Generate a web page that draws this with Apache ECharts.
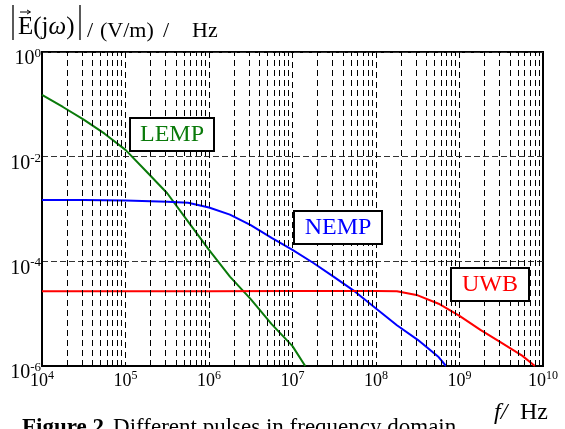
<!DOCTYPE html>
<html><head><meta charset="utf-8">
<script src="https://cdn.jsdelivr.net/npm/echarts@6/dist/echarts.min.js"></script>
<style>html,body{margin:0;padding:0;background:#fff}#c{width:565px;height:429px}</style>
</head><body><div id="c"></div>
<script>
// Frequencies (Hz) and spectral magnitudes ((V/m)/Hz)
const lempF = [1e4, 1.78e4, 3.16e4, 5.62e4, 1e5, 1.78e5, 3.16e5, 5.62e5, 1e6, 1.78e6, 3.16e6, 5.62e6, 1e7, 1.42e7];
const lempE = [1.51e-1, 8.9e-2, 5.1e-2, 2.75e-2, 1.35e-2, 5.2e-3, 2.0e-3, 5.75e-4, 1.66e-4, 5.1e-5, 1.9e-5, 6.3e-6, 2.4e-6, 1.0e-6];

const nempF = [1e4, 3.16e4, 1e5, 3.16e5, 5.62e5, 1e6, 1.78e6, 3.16e6, 5.62e6, 1e7, 1.78e7, 3.16e7, 5.62e7, 1e8, 1.78e8, 3.16e8, 5.62e8, 6.9e8];
const nempE = [1.48e-3, 1.48e-3, 1.45e-3, 1.38e-3, 1.32e-3, 1.07e-3, 7.8e-4, 4.9e-4, 2.8e-4, 1.66e-4, 9.3e-5, 5.0e-5, 2.63e-5, 1.26e-5, 6.0e-6, 3.16e-6, 1.48e-6, 1.0e-6];

const uwbF = [1e4, 1e6, 1e7, 1e8, 1.78e8, 3.16e8, 5.62e8, 1e9, 1.78e9, 3.16e9, 5.62e9, 8.0e9];
const uwbE = [2.69e-5, 2.69e-5, 2.72e-5, 2.72e-5, 2.69e-5, 2.24e-5, 1.55e-5, 9.1e-6, 4.9e-6, 2.8e-6, 1.58e-6, 1.0e-6];

const seriesNames = ['LEMP', 'NEMP', 'UWB'];
const xDecades = [1e4, 1e5, 1e6, 1e7, 1e8, 1e9];
const minorMult = [2, 3, 4, 5, 6, 7, 8, 9];

const serif = 'Liberation Serif, Times New Roman, serif';
const zip = (a, b) => a.map((v, i) => [v, b[i]]);

const minorLines = [];
xDecades.forEach(d => minorMult.forEach(m => minorLines.push({ xAxis: d * m })));

function supLabel(v) {
  const e = Math.round(Math.log10(v));
  return '{b|10}{e|' + e + '}';
}
const xRich = {
  b: { fontFamily: serif, fontSize: 18, color: '#000', lineHeight: 20, verticalAlign: 'bottom' },
  e: { fontFamily: serif, fontSize: 12, color: '#000', lineHeight: 13, verticalAlign: 'top' }
};
const yRich = {
  b: { fontFamily: serif, fontSize: 20, color: '#000', lineHeight: 22, verticalAlign: 'bottom' },
  e: { fontFamily: serif, fontSize: 13, color: '#000', lineHeight: 14, verticalAlign: 'top' }
};

const chart = echarts.init(document.getElementById('c'), null, { renderer: 'canvas' });
chart.setOption({
  animation: false,
  backgroundColor: '#fff',
  grid: { left: 42, right: 22, top: 52, bottom: 63, show: true, borderColor: '#000', borderWidth: 2, backgroundColor: 'transparent' },
  xAxis: {
    type: 'log', logBase: 10, min: 1e4, max: 1e10,
    axisLine: { show: true, lineStyle: { color: '#000', width: 2 } },
    axisTick: { show: false },
    splitLine: { show: true, lineStyle: { color: '#000', width: 1, type: [6, 4] } },
    axisLabel: { margin: 4, formatter: supLabel, rich: xRich, showMinLabel: true, showMaxLabel: true }
  },
  yAxis: {
    type: 'log', logBase: 10, min: 1e-6, max: 1, interval: 2,
    axisLine: { show: true, lineStyle: { color: '#000', width: 2 } },
    axisTick: { show: false },
    splitLine: { show: true, lineStyle: { color: '#333', width: 1, type: [6, 3] } },
    axisLabel: { margin: 1, formatter: supLabel, rich: yRich, padding: [12, 0, 0, 0] }
  },
  series: [
    {
      type: 'line', data: [], z: 1, silent: true,
      markLine: {
        silent: true, symbol: 'none', animation: false,
        label: { show: false },
        lineStyle: { color: '#000', width: 1, type: [6, 4] },
        data: minorLines
      }
    },
    { name: seriesNames[0], type: 'line', data: zip(lempF, lempE), showSymbol: false, smooth: false, z: 3, lineStyle: { color: '#0a7a0a', width: 2 } },
    { name: seriesNames[1], type: 'line', data: zip(nempF, nempE), showSymbol: false, smooth: false, z: 3, lineStyle: { color: '#0000ff', width: 2 } },
    { name: seriesNames[2], type: 'line', data: zip(uwbF, uwbE), showSymbol: false, smooth: false, z: 3, lineStyle: { color: '#ff0000', width: 2 } }
  ],
  graphic: [
    // y-axis title |E(jw)| / (V/m) / Hz
    { type: 'line', shape: { x1: 13, y1: 5, x2: 13, y2: 40 }, style: { stroke: '#000', lineWidth: 1.3 } },
    { type: 'line', shape: { x1: 80, y1: 5, x2: 80, y2: 40 }, style: { stroke: '#000', lineWidth: 1.3 } },
    { type: 'line', shape: { x1: 20, y1: 12, x2: 30, y2: 12 }, style: { stroke: '#000', lineWidth: 1 } },
    { type: 'polyline', shape: { points: [[27, 10], [30.5, 12], [27, 14]] }, style: { stroke: '#000', lineWidth: 1, fill: null } },
    { type: 'text', x: 18, y: 27, style: { text: '{n|E(j}{i|ω}{n|)}', rich: { n: { fontFamily: serif, fontSize: 25, fill: '#000' }, i: { fontFamily: serif, fontSize: 25, fontStyle: 'italic', fill: '#000' } }, verticalAlign: 'middle', align: 'left' } },
    { type: 'text', x: 87, y: 31, style: { text: '/', font: '22px ' + serif, fill: '#000', verticalAlign: 'middle' } },
    { type: 'text', x: 100, y: 31, style: { text: '(V/m)', font: '22px ' + serif, fill: '#000', verticalAlign: 'middle' } },
    { type: 'text', x: 163, y: 31, style: { text: '/', font: '22px ' + serif, fill: '#000', verticalAlign: 'middle' } },
    { type: 'text', x: 192, y: 31, style: { text: 'Hz', font: '22px ' + serif, fill: '#000', verticalAlign: 'middle' } },
    // x-axis title
    { type: 'text', x: 494, y: 413, style: { text: 'f/', font: 'italic 24px ' + serif, fill: '#000', verticalAlign: 'middle' } },
    { type: 'text', x: 548, y: 413, style: { text: 'Hz', font: '24px ' + serif, fill: '#000', verticalAlign: 'middle', align: 'right' } },
    // caption
    { type: 'text', x: 22, y: 428, style: { text: '{b|Figure 2.} {n|Different pulses in frequency domain}', rich: { b: { fontFamily: serif, fontSize: 23, fontWeight: 'bold', fill: '#000' }, n: { fontFamily: serif, fontSize: 23, fill: '#000' } }, verticalAlign: 'middle', align: 'left' } },
    // series labels
    { type: 'rect', shape: { x: 130, y: 118, width: 84, height: 33 }, style: { fill: '#fff', stroke: '#000', lineWidth: 2 }, z: 10 },
    { type: 'text', x: 172, y: 135, z: 11, style: { text: seriesNames[0], font: '24px ' + serif, fill: '#0a7a0a', align: 'center', verticalAlign: 'middle' } },
    { type: 'rect', shape: { x: 294, y: 211, width: 88, height: 33 }, style: { fill: '#fff', stroke: '#000', lineWidth: 2 }, z: 10 },
    { type: 'text', x: 338, y: 228, z: 11, style: { text: seriesNames[1], font: '24px ' + serif, fill: '#0000ff', align: 'center', verticalAlign: 'middle' } },
    { type: 'rect', shape: { x: 451, y: 268, width: 78, height: 33 }, style: { fill: '#fff', stroke: '#000', lineWidth: 2 }, z: 10 },
    { type: 'text', x: 490, y: 285, z: 11, style: { text: seriesNames[2], font: '24px ' + serif, fill: '#ff0000', align: 'center', verticalAlign: 'middle' } }
  ]
});
</script>
</body></html>
